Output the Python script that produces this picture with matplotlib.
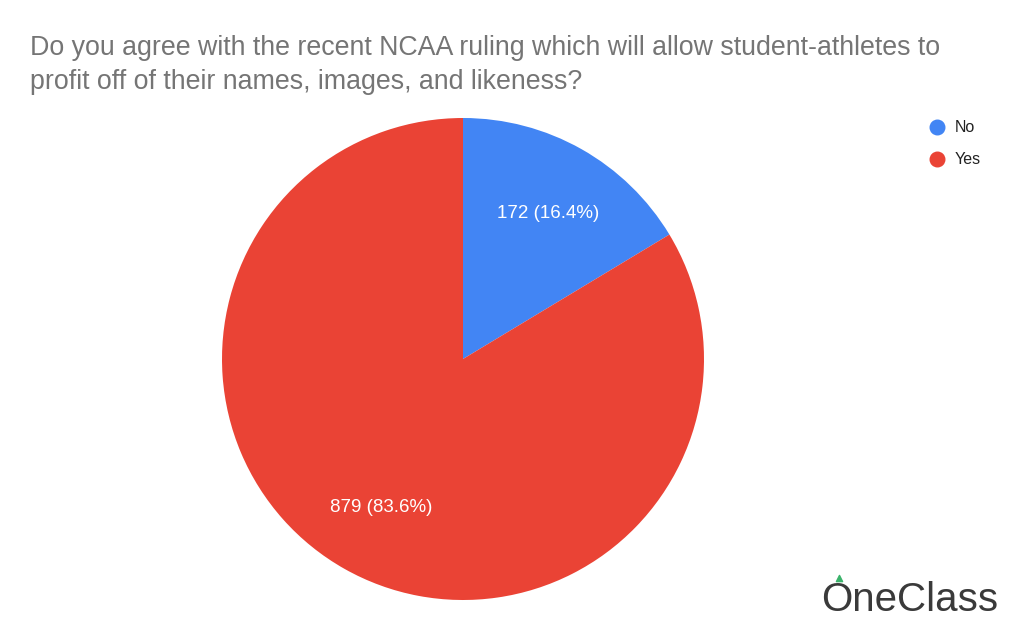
import matplotlib
matplotlib.use("Agg")
import matplotlib.pyplot as plt

categories = ["No", "Yes"]
values = [172, 879]
colors = ["#4285F4", "#EA4335"]
title = "Do you agree with the recent NCAA ruling which will allow student-athletes to\nprofit off of their names, images, and likeness?"

plt.rcParams["font.family"] = "Liberation Sans"
W, H = 1024, 633
fig = plt.figure(figsize=(W/100, H/100), dpi=100)
ax = fig.add_axes([0, 0, 1, 1])
total = sum(values)
wedges, texts = ax.pie(values, colors=colors, startangle=90, counterclock=False,
                       center=(463, H-359), radius=241, frame=True,
                       wedgeprops=dict(linewidth=0))
ax.set_xlim(0, W); ax.set_ylim(0, H); ax.set_aspect("equal")
ax.axis("off")
label_pos = [(548, 213), (381, 507)]
for v, (x, y) in zip(values, label_pos):
    ax.text(x, H-y, f"{v} ({v/total*100:.1f}%)", color="white", fontsize=13.5,
            ha="center", va="center")
ax.text(30, H-65, title, color="#757575", fontsize=19.3, ha="left", va="center",
        linespacing=1.38)
for i, (c, col) in enumerate(zip(categories, colors)):
    y = H - (127 + 32*i)
    ax.scatter([937], [y], s=110, color=col, zorder=3)
    ax.text(955, y, c, fontsize=11.5, color="#222222", va="center", ha="left")
ax.text(910, H-600, "OneClass", fontsize=29, color="#3a3a3a", ha="center", va="center")
ax.scatter([839], [H-578], s=20, color="#3bb36b", marker="^")
fig.savefig("out.png", dpi=100)
